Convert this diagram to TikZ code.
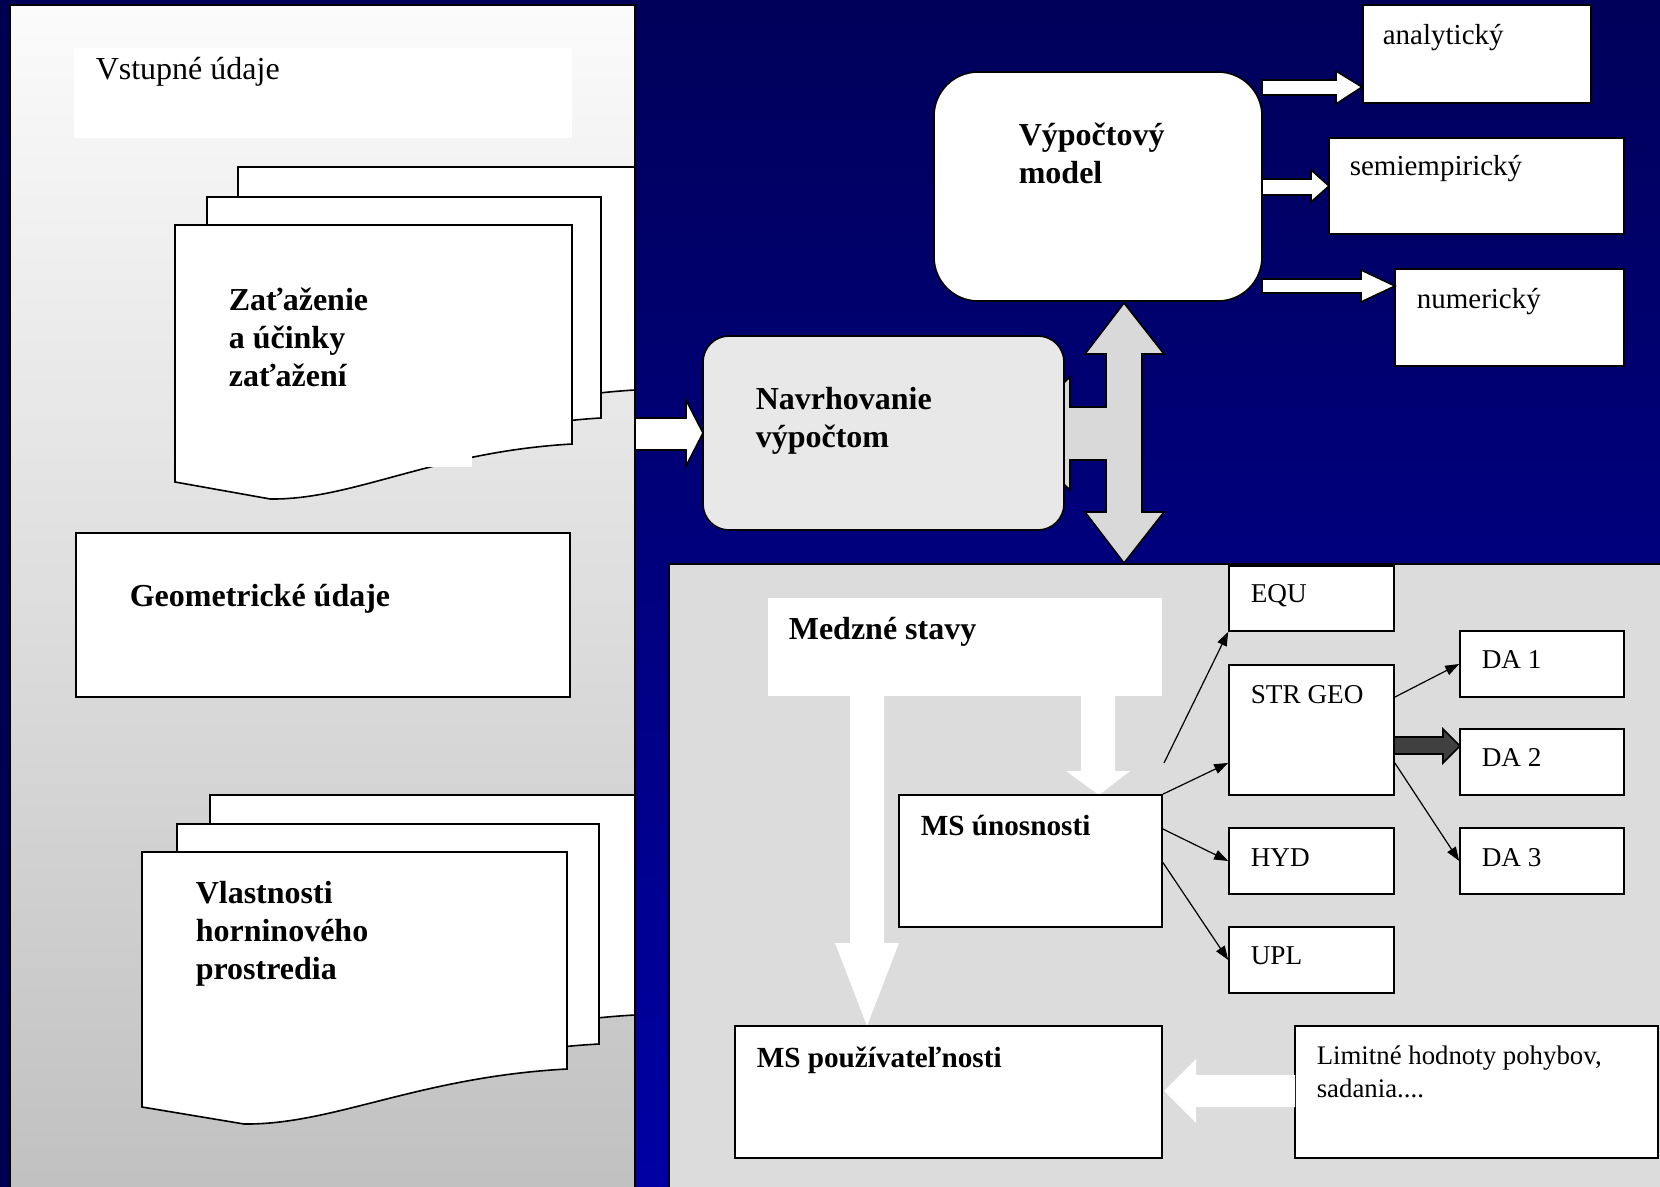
\documentclass[tikz,border=0pt]{standalone}
\usepackage{fontspec}
\setmainfont{Liberation Serif}
\usepackage{tikz}
\usetikzlibrary{positioning, calc, arrows.meta, fit}
\definecolor{NavyTop}{HTML}{00005A}
\definecolor{NavyMid}{HTML}{000094}
\definecolor{NavyBot}{HTML}{0000A4}
\definecolor{NavyEdge}{HTML}{000052}
\definecolor{PanelTop}{HTML}{FBFBFB}
\definecolor{PanelBot}{HTML}{C0C0C0}
\definecolor{LimGray}{HTML}{DCDCDC}
\definecolor{NavGray}{HTML}{E8E8E8}
\definecolor{ArrGray}{HTML}{D9D9D9}
\definecolor{DarkArr}{HTML}{404040}

% sheet of a document stack: left, top, width, height at right edge
\newcommand{\docsheet}[4]{%
  \filldraw[fill=white, draw=black] (#1,#2) -- ({#1+#3},#2) -- ({#1+#3},{#2+#4})
    .. controls ({#1+0.65*#3},{#2+#4+8}) and ({#1+0.45*#3},{#2+#4+56}) .. ({#1+0.24*#3},{#2+#4+55})
    -- (#1,{#2+#4+38}) -- cycle;}

\begin{document}
\begin{tikzpicture}[x=0.5pt, y=-0.5pt, line width=0.8pt,
  box/.style={draw=black, fill=white, inner sep=0pt},
  lbl/.style={anchor=west, inner sep=0pt, align=left, font=\fontsize{13.6}{16.5}\selectfont},
  hd/.style={lbl, font=\bfseries\fontsize{16}{19}\selectfont},
  ms/.style={lbl, font=\bfseries\fontsize{14.6}{18}\selectfont},
  link/.style={-{Triangle[length=7pt,width=5pt]}, line width=0.6pt}]
\useasboundingbox (0,0) rectangle (1660,1187);
\clip (0,0) rectangle (1660,1187);
\shade[top color=NavyTop, middle color=NavyMid, bottom color=NavyBot] (0,0) rectangle (1660,1187);
\fill[NavyEdge] (0,0) rectangle (10,1187);

% left panel: input data
\shadedraw[top color=PanelTop, bottom color=PanelBot, draw=black] (10,5) rectangle (635,1200);
\node[fill=white, inner sep=0pt, fit={(74,48) (572,138)}] (vstup) {};
\node[lbl, font=\fontsize{16}{19}\selectfont] (vstuptx) at (95,72) {Vstupné údaje};

\docsheet{238}{167}{397}{223}
\docsheet{207}{197}{394}{221}
\docsheet{175}{225}{397}{219}
\fill[white] (420,440) rectangle (472,467);
\node[hd] (zataz) at (228,337) {Zaťaženie\\a účinky\\zaťažení};

\node[box, fit={(76,533) (570,697)}] (geom) {};
\node[hd] (geomtx) at (129,599) {Geometrické údaje};

\docsheet{210}{795}{425}{220}
\docsheet{177}{824}{422}{220}
\docsheet{142}{852}{425}{217}
\node[hd] (vlast) at (195,934) {Vlastnosti\\horninového\\prostredia};

% design by calculation
\filldraw[fill=white] (635,418) -- (686,418) -- (686,400) -- (703,433) -- (686,466) -- (686,450) -- (635,450) -- cycle;
\filldraw[fill=ArrGray] (1124,303) -- (1164,354) -- (1142,354) -- (1142,512) -- (1164,512) -- (1124,563)
  -- (1085,512) -- (1106,512) -- (1106,460) -- (1070,460) -- (1070,490) -- (1010,433) -- (1070,377)
  -- (1070,407) -- (1106,407) -- (1106,354) -- (1085,354) -- cycle;
\node[box, fill=NavGray, rounded corners=13pt, fit={(703,336) (1064,530)}] (navrh) {};
\node[hd] (navrhtx) at (755,421) {Navrhovanie\\výpočtom};

\node[box, rounded corners=22pt, fit={(934,72) (1262,301)}] (model) {};
\node[hd] (modeltx) at (1018,153) {Výpočtový\\model};

\node[box, fit={(1363,5) (1591,103)}] (analyt) {};
\node[lbl, font=\fontsize{14.5}{17}\selectfont] (analyttx) at (1382,38) {analytický};
\node[box, fit={(1329,138) (1624,234)}] (semiemp) {};
\node[lbl, font=\fontsize{14.5}{17}\selectfont] (semiemptx) at (1349,169) {semiempirický};
\node[box, fit={(1395,269) (1624,366)}] (numer) {};
\node[lbl, font=\fontsize{14.5}{17}\selectfont] (numertx) at (1416,302) {numerický};

\filldraw[fill=white] (1262,80) -- (1336,80) -- (1336,71) -- (1362,87) -- (1336,104) -- (1336,95) -- (1262,95) -- cycle;
\filldraw[fill=white] (1262,179) -- (1311,179) -- (1311,170) -- (1329,186) -- (1311,202) -- (1311,195) -- (1262,195) -- cycle;
\filldraw[fill=white] (1262,279) -- (1361,279) -- (1361,270) -- (1395,286) -- (1361,302) -- (1361,293) -- (1262,293) -- cycle;

% limit states
\filldraw[fill=LimGray] (669,564) rectangle (1670,1200);
\node[fill=white, inner sep=0pt, fit={(768,598) (1162,696)}] (medzne) {};
\node[hd] (medznetx) at (788,632) {Medzné stavy};

\fill[white] (850,690) -- (884,690) -- (884,943) -- (899,943) -- (867,1026) -- (835,943) -- (850,943) -- cycle;
\fill[white] (1081,690) -- (1115,690) -- (1115,771) -- (1130,771) -- (1099,795) -- (1066,771) -- (1081,771) -- cycle;

\node[box, fit={(899,795) (1162,927)}] (msu) {};
\node[ms] (msutx) at (920,826) {MS únosnosti};
\node[box, fit={(735,1026) (1162,1158)}] (msp) {};
\node[ms] (msptx) at (756,1060) {MS používateľnosti};
\node[box, fit={(1295,1026) (1658,1158)}] (limit) {};
\node[lbl, font=\fontsize{13.4}{16.5}\selectfont] (limittx) at (1316,1072) {Limitné hodnoty pohybov,\\sadania....};
\fill[white] (1295,1075) -- (1196,1075) -- (1196,1059) -- (1164,1091) -- (1196,1123) -- (1196,1107) -- (1295,1107) -- cycle;

\node[box, fit={(1229,566) (1394,631)}] (equ) {};
\node[lbl] (equtx) at (1250,596) {EQU};
\node[box, fit={(1229,665) (1394,795)}] (strgeo) {};
\node[lbl] (strgeotx) at (1250,695) {STR GEO};
\node[box, fit={(1229,828) (1394,894)}] (hyd) {};
\node[lbl] (hydtx) at (1250,858) {HYD};
\node[box, fit={(1229,927) (1394,993)}] (upl) {};
\node[lbl] (upltx) at (1250,956) {UPL};
\node[box, fit={(1460,631) (1624,697)}] (da1) {};
\node[lbl] (da1tx) at (1481,660) {DA 1};
\node[box, fit={(1460,729) (1624,795)}] (da2) {};
\node[lbl] (da2tx) at (1481,758) {DA 2};
\node[box, fit={(1460,828) (1624,894)}] (da3) {};
\node[lbl] (da3tx) at (1481,858) {DA 3};

\coordinate (equfrom) at (1164,763);
\draw[link] (equfrom) -- (equ.south west);
\draw[link] (msu.north east) -- ($(strgeo.south west)!0.25!(strgeo.north west)$);
\draw[link] ($(msu.north east)!0.26!(msu.south east)$) -- (hyd.west);
\draw[link] ($(msu.north east)!0.51!(msu.south east)$) -- (upl.west);
\draw[link] ($(strgeo.north east)!0.25!(strgeo.south east)$) -- (da1.west);
\draw[link] ($(strgeo.north east)!0.75!(strgeo.south east)$) -- (da3.west);
\filldraw[fill=DarkArr] (1394,737) -- (1443,737) -- (1443,729) -- (1460,746) -- (1443,763) -- (1443,754) -- (1394,754) -- cycle;
\end{tikzpicture}
\end{document}
